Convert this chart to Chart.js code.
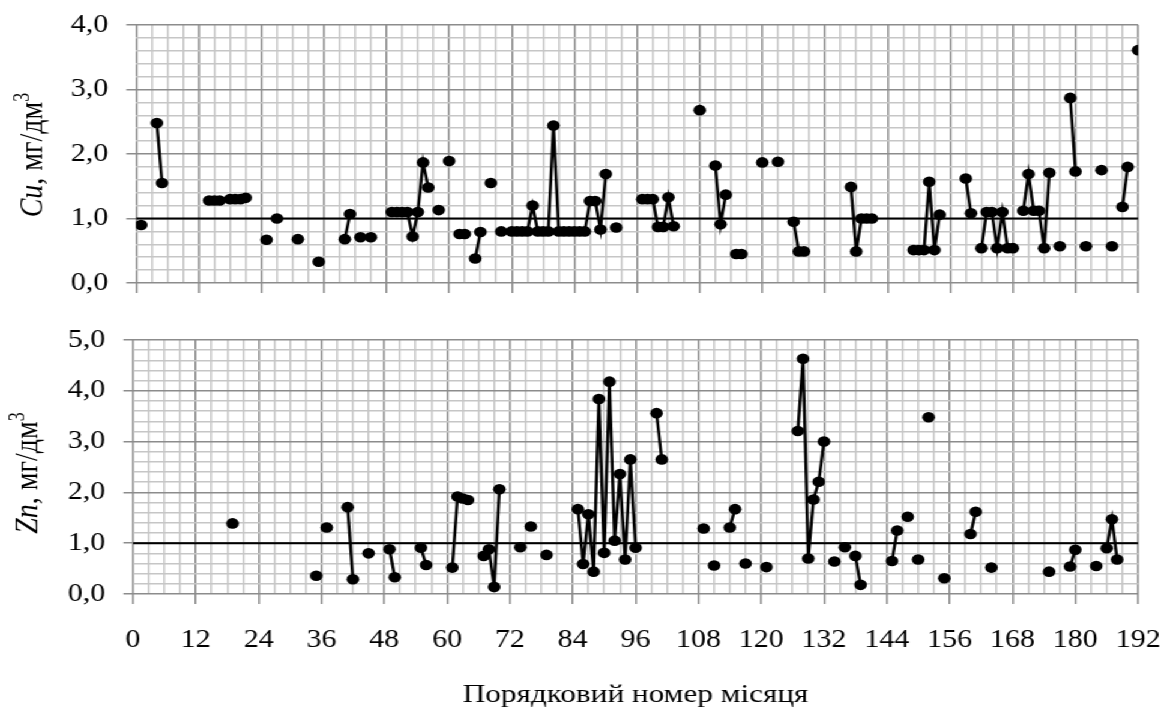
<!DOCTYPE html>
<html>
<head>
<meta charset="utf-8">
<script src="https://cdn.jsdelivr.net/npm/chart.js@4.4.1/dist/chart.umd.min.js"></script>
<style>
  html, body { margin: 0; padding: 0; background: #fff; }
  #wrap { position: absolute; left: 0; top: 0; width: 972px; height: 714px;
          transform: scaleX(1.2006); transform-origin: 0 0; }
  #cu { position: absolute; left: 0; top: 0; }
  #zn { position: absolute; left: 0; top: 300px; }
</style>
</head>
<body>
<div id="wrap">
  <canvas id="cu" width="972" height="300"></canvas>
  <canvas id="zn" width="972" height="414"></canvas>
</div>
<script>
// months (1..192) and concentrations, mg/dm3
const cuMonths = [1, 4, 5, 14, 15, 16, 18, 19, 20, 21,
  25, 27, 31, 35, 40, 41, 43, 45, 49, 50,
  51, 52, 53, 54, 55, 56, 58, 60, 62, 63,
  65, 66, 68, 70, 72, 73, 74, 75, 76, 77,
  78, 79, 80, 81, 82, 83, 84, 85, 86, 87,
  88, 89, 90, 92, 97, 98, 99, 100, 101, 102,
  103, 108, 111, 112, 113, 115, 116, 120, 123, 126,
  127, 128, 137, 138, 139, 140, 141, 149, 150, 151,
  152, 153, 154, 159, 160, 162, 163, 164, 165, 166,
  167, 168, 170, 171, 172, 173, 174, 175, 177, 179,
  180, 182, 185, 187, 189, 190, 192];
const cuValues = [0.9, 2.48, 1.55, 1.28, 1.28, 1.28, 1.3, 1.3, 1.3, 1.32,
  0.67, 1.0, 0.68, 0.33, 0.68, 1.07, 0.71, 0.71, 1.1, 1.1,
  1.1, 1.1, 0.72, 1.1, 1.87, 1.48, 1.13, 1.89, 0.76, 0.76,
  0.38, 0.79, 1.55, 0.8, 0.8, 0.8, 0.8, 0.8, 1.2, 0.8,
  0.8, 0.8, 2.44, 0.8, 0.8, 0.8, 0.8, 0.8, 0.8, 1.27,
  1.27, 0.83, 1.69, 0.86, 1.3, 1.3, 1.3, 0.87, 0.87, 1.33,
  0.88, 2.68, 1.82, 0.91, 1.37, 0.45, 0.45, 1.87, 1.88, 0.95,
  0.49, 0.49, 1.49, 0.49, 1.0, 1.0, 1.0, 0.51, 0.51, 0.51,
  1.57, 0.51, 1.06, 1.62, 1.08, 0.54, 1.1, 1.1, 0.54, 1.1,
  0.54, 0.54, 1.12, 1.69, 1.12, 1.12, 0.54, 1.71, 0.57, 2.87,
  1.73, 0.57, 1.75, 0.57, 1.18, 1.8, 3.61];

const znMonths = [19, 35, 37, 41, 42, 45, 49, 50, 55, 56,
  61, 62, 63, 64, 67, 68, 69, 70, 74, 76,
  79, 85, 86, 87, 88, 89, 90, 91, 92, 93,
  94, 95, 96, 100, 101, 109, 111, 114, 115, 117,
  121, 127, 128, 129, 130, 131, 132, 134, 136, 138,
  139, 145, 146, 148, 150, 152, 155, 160, 161, 164,
  175, 179, 180, 184, 186, 187, 188];
const znValues = [1.39, 0.36, 1.31, 1.71, 0.29, 0.8, 0.88, 0.33, 0.91, 0.57,
  0.52, 1.92, 1.88, 1.85, 0.75, 0.88, 0.14, 2.06, 0.92, 1.33,
  0.77, 1.67, 0.59, 1.57, 0.44, 3.84, 0.81, 4.18, 1.05, 2.36,
  0.68, 2.65, 0.91, 3.56, 2.65, 1.29, 0.56, 1.31, 1.67, 0.6,
  0.53, 3.21, 4.63, 0.7, 1.86, 2.21, 3.0, 0.64, 0.92, 0.75,
  0.18, 0.65, 1.25, 1.52, 0.68, 3.48, 0.31, 1.18, 1.62, 0.52,
  0.44, 0.54, 0.87, 0.55, 0.9, 1.47, 0.68];

const normLevel = 1.0;
const xTitle = 'Порядковий номер місяця';

const serif = '"Liberation Serif", "Times New Roman", serif';
const majorColor = '#8c8c8c';
const minorColor = '#c6c6c6';

// one point per month, null where no sample, so the line breaks
var series = function(months, values) {
    const pts = [];
    for (let m = 1; m <= 192; m++) {
        const i = months.indexOf(m);
        pts.push({x: m, y: i >= 0 ? values[i] : null});
    }
    return pts;
};

const isWhole = v => Math.abs(v - Math.round(v)) < 1e-6;

// rotated y title with italic element name and superscript
const yTitle = {
    id: 'yTitle',
    afterDraw(chart, args, opts) {
        const ctx = chart.ctx;
        ctx.save();
        ctx.translate(opts.x, opts.y);
        ctx.rotate(-Math.PI / 2);
        ctx.fillStyle = '#000';
        ctx.textBaseline = 'alphabetic';
        let total = 0;
        opts.parts.forEach(p => { ctx.font = p.font; total += ctx.measureText(p.text).width; });
        let cx = -total / 2;
        opts.parts.forEach(p => {
            ctx.font = p.font;
            ctx.fillText(p.text, cx, p.dy || 0);
            cx += ctx.measureText(p.text).width;
        });
        ctx.restore();
    }
};

var makeChart = function(id, months, values, yMax, left, top, xHeight, showX, name, titleX, titleY) {
    return new Chart(document.getElementById(id), {
        type: 'line',
        data: {
            datasets: [{
                data: series(months, values),
                borderColor: '#000',
                backgroundColor: '#000',
                borderWidth: 2.5,
                pointRadius: 5.3,
                pointBorderWidth: 0,
                spanGaps: false
            }, {
                data: [{x: 0, y: normLevel}, {x: 192, y: normLevel}],
                borderColor: '#000',
                borderWidth: 2,
                pointRadius: 0
            }]
        },
        options: {
            responsive: false,
            animation: false,
            layout: {padding: {top: top, right: 24.1, left: 0, bottom: 0}},
            plugins: {
                legend: {display: false},
                tooltip: {enabled: false},
                yTitle: {
                    x: titleX, y: titleY,
                    parts: [
                        {text: name, font: 'italic 28px ' + serif},
                        {text: ', мг/дм', font: '28px ' + serif},
                        {text: '3', font: '18px ' + serif, dy: -11}
                    ]
                }
            },
            scales: {
                x: {
                    type: 'linear', min: 0, max: 192,
                    afterFit: s => {
                        s.height = xHeight;
                        s.paddingLeft = 0; s.paddingRight = 0;
                    },
                    border: {display: false},
                    grid: {
                        lineWidth: 1.5,
                        tickLength: 10,
                        color: c => c.tick.value % 12 === 0 ? majorColor : minorColor,
                        tickColor: c => c.tick.value % 12 === 0 ? majorColor : 'rgba(0,0,0,0)'
                    },
                    ticks: {
                        display: showX,
                        stepSize: 3,
                        autoSkip: false,
                        maxRotation: 0,
                        padding: 21,
                        color: '#000',
                        font: {family: serif, size: 25},
                        callback: v => v % 12 === 0 ? String(v) : ''
                    },
                    title: {
                        display: showX,
                        text: xTitle,
                        color: '#000',
                        font: {family: serif, size: 26},
                        padding: {top: 0, bottom: 3}
                    }
                },
                y: {
                    min: 0, max: yMax,
                    afterFit: s => {
                        s.width = left;
                        s.paddingTop = 0; s.paddingBottom = 0;
                    },
                    border: {display: false},
                    grid: {
                        lineWidth: 1.5,
                        tickLength: 8,
                        color: c => isWhole(c.tick.value) ? majorColor : minorColor,
                        tickColor: c => isWhole(c.tick.value) ? majorColor : 'rgba(0,0,0,0)'
                    },
                    ticks: {
                        stepSize: 0.2,
                        autoSkip: false,
                        padding: 15,
                        color: '#000',
                        font: {family: serif, size: 25},
                        callback: v => isWhole(v) ? v.toFixed(1).replace('.', ',') : ''
                    }
                }
            }
        },
        plugins: [yTitle]
    });
};

makeChart('cu', cuMonths, cuValues, 4, 113.3, 25, 17, false, 'Cu', 34.7, 155);
makeChart('zn', znMonths, znValues, 5, 110.8, 40, 120, true, 'Zn', 30.5, 173);
</script>
</body>
</html>
